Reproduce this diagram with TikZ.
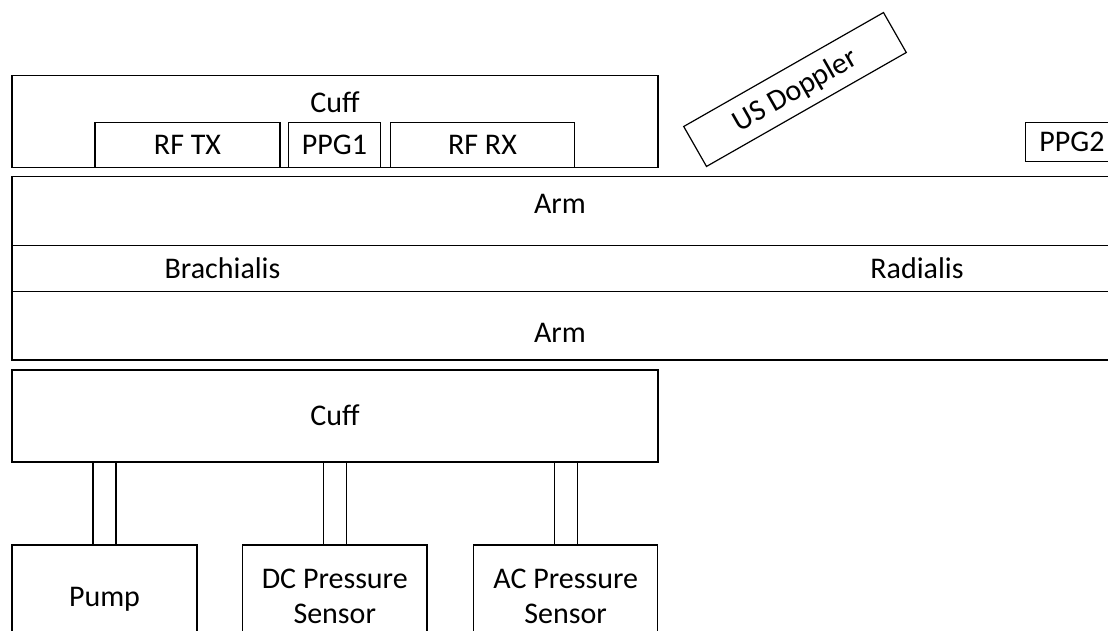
\documentclass[tikz,border=0pt]{standalone}
\usepackage{fontspec}
\setmainfont{Carlito}
\begin{document}
\begin{tikzpicture}[x=1pt,y=-1pt,
  ln/.style={line width=1.2pt, draw=black},
  blk/.style={ln, rectangle, inner sep=0pt, outer sep=0pt,
    font=\fontsize{30}{35.5}\selectfont, text height=19.3pt, text depth=0pt, align=center},
  two/.style={text height=53.8pt, text depth=0pt},
  txt/.style={inner sep=0pt, font=\fontsize{30}{35.5}\selectfont, text height=19.3pt, text depth=0pt},
  tube/.style={ln}
]
\useasboundingbox (0,0) rectangle (1108,631);
\clip (0,0) rectangle (1108,631);
% top cuff
\node[blk, minimum width=646pt, minimum height=92pt] (cuffT) at (335,121.7) {};
\node[txt] (cuffTtxt) at (335,103.3) {Cuff};
\node[blk, minimum width=185pt, minimum height=45.4pt] (rftx) at (187.5,145) {RF TX};
\node[blk, minimum width=92.4pt, minimum height=45.4pt] (ppg1) at (334.5,145) {PPG1};
\node[blk, minimum width=184.4pt, minimum height=45.4pt] (rfrx) at (482.5,145) {RF RX};
% US Doppler
\node[blk, minimum width=230pt, minimum height=46pt, rotate=29.7] (usd) at (795,89.5) {US Doppler};
% PPG2
\node[blk, minimum width=92.4pt, minimum height=39.4pt] (ppg2) at (1072,142) {PPG2};
% arm
\node[blk, minimum width=1104pt, minimum height=69pt, anchor=north west] (armT) at (12,176.7) {};
\node[blk, minimum width=1104pt, minimum height=46pt, anchor=north west] (vessel) at (12,245.7) {};
\node[blk, minimum width=1104pt, minimum height=68.3pt, anchor=north west] (armB) at (12,291.7) {};
\node[txt] (armTtxt) at (560,204.3) {Arm};
\node[txt] (brach) at (222.5,269) {Brachialis};
\node[txt] (radial) at (917,269) {Radialis};
\node[txt] (armBtxt) at (560,332.4) {Arm};
% bottom cuff
\node[blk, minimum width=646pt, minimum height=92pt] (cuffB) at (335,416) {Cuff};
% bottom boxes
\node[blk, minimum width=185pt, minimum height=104pt] (pump) at (104.5,597) {Pump};
\node[blk, two, minimum width=184.5pt, minimum height=104pt] (dc) at (334.75,597) {DC Pressure\\Sensor};
\node[blk, two, minimum width=184pt, minimum height=104pt] (ac) at (565.7,597) {AC Pressure\\Sensor};
% tubes
\foreach \b in {pump,dc,ac}{
  \draw[tube] ([xshift=-11.5pt]\b.north) -- ([xshift=-11.5pt]\b.north |- cuffB.south);
  \draw[tube] ([xshift=11.5pt]\b.north) -- ([xshift=11.5pt]\b.north |- cuffB.south);
}
\end{tikzpicture}
\end{document}
